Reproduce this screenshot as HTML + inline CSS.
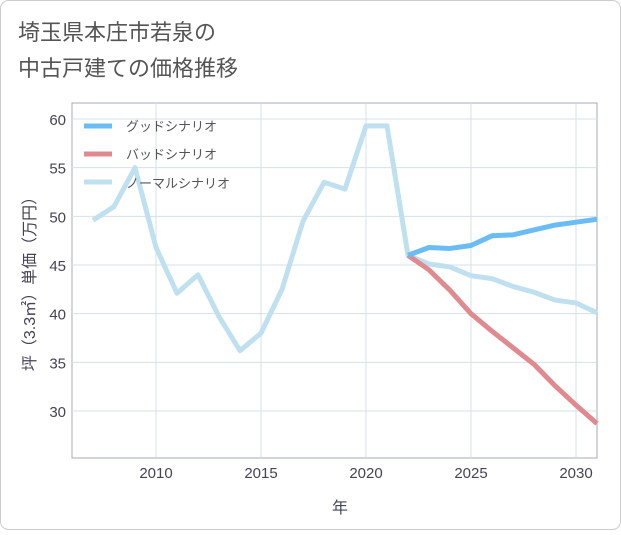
<!DOCTYPE html>
<html><head><meta charset="utf-8"><style>
body{margin:0;background:#fff;font-family:"Liberation Sans","Noto Sans CJK JP",sans-serif;}
</style></head><body>
<svg width="621" height="530" viewBox="0 0 621 530" style="font-family:'Liberation Sans','Noto Sans CJK JP',sans-serif">
<rect x="0.5" y="0.5" width="620" height="529" rx="8" fill="#fff" stroke="#ccc"/>
<text x="18" y="40" font-size="22" fill="#555">埼玉県本庄市若泉の</text>
<text x="18" y="76" font-size="22" fill="#555">中古戸建ての価格推移</text>
<rect x="72" y="103" width="525" height="355" fill="none" stroke="#aab"/>
<g id="grid"></g><g id="axes"></g><g id="lines"></g>
<text x="340" y="513" font-size="16" fill="#445" text-anchor="middle">年</text>
<text transform="translate(35,280) rotate(-90)" font-size="16" fill="#445" text-anchor="middle">坪（3.3㎡）単価（万円）</text>
<g>
<line x1="84" y1="126" x2="112" y2="126" stroke="#6bbcf5" stroke-width="5"/>
<text x="126" y="131" font-size="13" fill="#555">グッドシナリオ</text>
<line x1="84" y1="154" x2="112" y2="154" stroke="#e08a90" stroke-width="5"/>
<text x="126" y="159" font-size="13" fill="#555">バッドシナリオ</text>
<line x1="84" y1="182" x2="112" y2="182" stroke="#bfe0ee" stroke-width="5"/>
<text x="126" y="188" font-size="13" fill="#555">ノーマルシナリオ</text>
</g>
</svg>
<script>
const normalYears=[2007,2008,2009,2010,2011,2012,2013,2014,2015,2016,2017,2018,2019,2020,2021,2022,2023,2024,2025,2026,2027,2028,2029,2030,2031];
const normalValues=[49.6,51,55,46.8,42.1,44,39.7,36.2,38,42.5,49.5,53.5,52.8,59.3,59.3,46,45.1,44.8,43.9,43.6,42.8,42.2,41.4,41.1,40.1];
const forecastYears=[2022,2023,2024,2025,2026,2027,2028,2029,2030,2031];
const goodValues=[46,46.8,46.7,47,48,48.1,48.6,49.1,49.4,49.7];
const badValues=[46,44.5,42.4,40,38.2,36.5,34.8,32.6,30.6,28.7];
const xTicks=[2010,2015,2020,2025,2030];
const yTicks=[30,35,40,45,50,55,60];
const NS="http://www.w3.org/2000/svg";
const X=y=>156+(y-2010)*21;
const Y=v=>411-(v-30)*(292/30);
const grid=document.getElementById('grid'),axes=document.getElementById('axes'),lines=document.getElementById('lines');
function mk(tag,attrs,parent){const e=document.createElementNS(NS,tag);for(const k in attrs)e.setAttribute(k,attrs[k]);parent.appendChild(e);return e;}
xTicks.forEach(t=>{
  const l=mk('line',{x1:X(t),x2:X(t),y1:103,y2:458,stroke:'#d5e0e8'},grid);
  
  
  const tx=mk('text',{x:X(t),y:478,'font-size':15,fill:'#445','text-anchor':'middle'},axes);
  tx.textContent=t;
  
  
});
yTicks.forEach(t=>{
  const l=mk('line',{x1:72,x2:597,y1:Y(t),y2:Y(t),stroke:'#d5e0e8'},grid);
  
  
  const tx=mk('text',{x:66,y:Y(t)+6,'font-size':15,fill:'#445','text-anchor':'end'},axes);
  tx.textContent=t;
  
  
});
function line(xs,vs,color,name){
  const p=mk('polyline',{points:xs.map((x,i)=>X(x)+','+Y(vs[i])).join(' '),fill:'none',stroke:color,'stroke-width':5,'stroke-linejoin':'round'},lines);
  
  
}
line(normalYears,normalValues,'#bfe0ee','normal-scenario-line');
line(forecastYears,badValues,'#e08a90','bad-scenario-line');
line(forecastYears,goodValues,'#6bbcf5','good-scenario-line');
</script>
</body></html>
